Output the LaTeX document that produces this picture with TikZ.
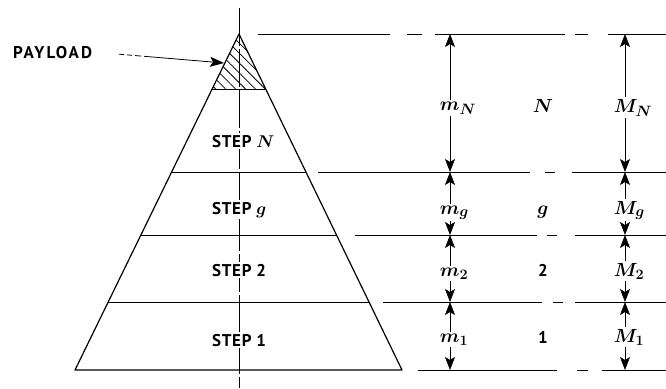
\documentclass[tikz,border=0pt]{standalone}
\usepackage{fontspec}
\newfontfamily\gillfont{PT Sans}[LetterSpace=4]
\newfontfamily\widegillfont{PT Sans}[LetterSpace=12]
\DeclareFontFamily{OML}{cmm}{\skewchar\font127 }
\DeclareFontShape{OML}{cmm}{m}{it}{<->cmmi10}{}
\DeclareFontShape{OML}{cmm}{b}{it}{<->cmmib10}{}
\usetikzlibrary{arrows.meta,patterns.meta}
\newcommand\dimlabel[2]{$#1_{\rlap{\fontsize{15}{17}\selectfont\boldmath$#2$}}$}

\begin{document}
\begin{tikzpicture}[x=1pt,y=-1pt,>={Stealth[length=13pt,width=10pt,inset=3pt]},
  stage/.style={font=\gillfont\bfseries\fontsize{17}{20}\selectfont\boldmath,fill=white,inner sep=2pt,anchor=base west},
  num/.style={font=\gillfont\bfseries\fontsize{17}{20}\selectfont,inner sep=1pt,anchor=base},
  sym/.style={font=\fontsize{19}{22}\selectfont\boldmath,inner sep=1.5pt,anchor=base},
  dim/.style={->,line width=.6pt},
  ext/.style={line width=1pt}]
  \useasboundingbox (0,0) rectangle (666,388);
  % rocket outline and stage cuts
  \coordinate (apex) at (239,34);
  \coordinate (bl) at (75,370);
  \coordinate (br) at (402,370);
  \coordinate (p0l) at (212.2,89); \coordinate (p0r) at (265.7,89);
  \coordinate (s1l) at (171.6,172); \coordinate (s1r) at (306,172);
  \coordinate (s2l) at (140.9,235); \coordinate (s2r) at (336.5,235);
  \coordinate (s3l) at (108.2,302); \coordinate (s3r) at (369,302);
  \fill[pattern={Lines[angle=-45,distance=7pt,line width=.8pt]}] (apex) -- (p0l) -- (p0r) -- cycle;
  \draw[line width=.9pt,dash pattern=on 38pt off 3pt] (239,8) coordinate (axt) -- (239,388) coordinate (axb);
  \draw[line width=1.2pt,line join=round] (apex) -- (bl) -- (br) -- cycle;
  \draw[line width=1pt] (p0l) -- (p0r) (s1l) -- (s1r) (s2l) -- (s2r) (s3l) -- (s3r);
  % extension lines
  \coordinate (e0) at (258,34); \coordinate (f0) at (666,34);
  \coordinate (e1) at (318,172); \coordinate (f1) at (666,172);
  \coordinate (e2) at (355,235); \coordinate (f2) at (666,235);
  \coordinate (e3) at (383,302); \coordinate (f3) at (666,302);
  \coordinate (e4) at (418,370); \coordinate (f4) at (666,370);
  \draw[ext,dash pattern=on 132pt off 17pt on 15pt off 13pt on 130pt off 10pt on 13pt off 20pt on 60pt] (e0) -- (f0);
  \draw[ext,dash pattern=on 212pt off 15pt on 10pt off 17pt on 100pt] (e1) -- (f1);
  \draw[ext,dash pattern=on 182pt off 10pt on 10pt off 18pt on 100pt] (e2) -- (f2);
  \draw[ext,dash pattern=on 159pt off 11pt on 10pt off 12pt on 100pt] (e3) -- (f3);
  \draw[ext,dash pattern=on 139pt off 20pt on 11pt off 14pt on 100pt] (e4) -- (f4);
  % stage labels
  \node[stage] (stN) at (210,147) {STEP $N$};
  \node[stage] (stg) at (210,214) {STEP $g$};
  \node[stage] (st2) at (210,276) {STEP 2};
  \node[stage] (st1) at (210,346) {STEP 1};
  % payload
  \node[font=\widegillfont\bfseries\fontsize{17}{20}\selectfont,anchor=base west,inner sep=1pt] (pay) at (12,58) {PAYLOAD};
  \coordinate (tip) at (224,63);
  \draw[-{Stealth[length=14pt,width=10pt,inset=3pt]},line width=.8pt,shorten <=26pt,
    dash pattern=on 5pt off 3pt on 5pt off 3pt on 6pt off 3pt on 100pt] (pay.east) -- (tip);
  % masses
  \node[sym] (mN) at (450,110) {\dimlabel mN};
  \node[sym] (mg) at (450,214) {\dimlabel mg};
  \node[sym] (m2) at (450,276) {\dimlabel m2};
  \node[sym] (m1) at (450,342) {\dimlabel m1};
  \node[sym] (MN) at (625,112) {\dimlabel MN};
  \node[sym] (Mg) at (625,214) {\dimlabel Mg};
  \node[sym] (M2) at (625,276) {\dimlabel M2};
  \node[sym] (M1) at (625,342) {\dimlabel M1};
  \node[sym] (nN) at (543,112) {$N$};
  \node[sym] (ng) at (543,214) {$g$};
  \node[num] (n2) at (543,276) {2};
  \node[num] (n1) at (543,343) {1};
  \foreach \a/\b/\c in {mN/e0/e1,mg/e1/e2,m2/e2/e3,m1/e3/e4,MN/e0/e1,Mg/e1/e2,M2/e2/e3,M1/e3/e4}{
    \draw[dim] (\a) -- (\a |- \b);
    \draw[dim] (\a) -- (\a |- \c);
  }
\end{tikzpicture}
\end{document}
